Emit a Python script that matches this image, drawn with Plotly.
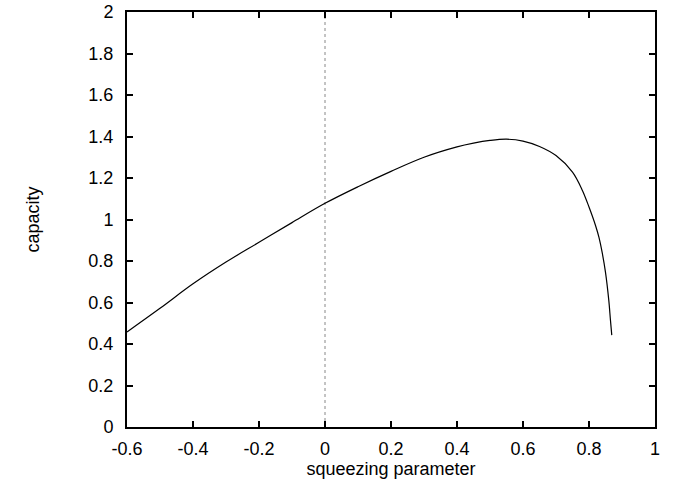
import plotly.graph_objects as go

squeezing = [-0.6, -0.5, -0.4, -0.3, -0.2, -0.1, 0.0, 0.1, 0.2, 0.3, 0.4, 0.45, 0.5, 0.55, 0.6,
             0.65, 0.7, 0.75, 0.78, 0.8, 0.82, 0.83, 0.84, 0.85, 0.86, 0.865, 0.869]
capacity = [0.458, 0.572, 0.690, 0.795, 0.890, 0.985, 1.078, 1.158, 1.232, 1.300, 1.350, 1.368,
            1.381, 1.387, 1.378, 1.352, 1.308, 1.228, 1.140, 1.060, 0.970, 0.915, 0.840, 0.745,
            0.610, 0.515, 0.443]

xticks = [-0.6, -0.4, -0.2, 0, 0.2, 0.4, 0.6, 0.8, 1]
xticklabels = ["-0.6", "-0.4", "-0.2", "0", "0.2", "0.4", "0.6", "0.8", "1"]
yticks = [0, 0.2, 0.4, 0.6, 0.8, 1, 1.2, 1.4, 1.6, 1.8, 2]
yticklabels = ["0", "0.2", "0.4", "0.6", "0.8", "1", "1.2", "1.4", "1.6", "1.8", "2"]

fig = go.Figure()
fig.add_trace(go.Scatter(x=[0, 0], y=[0, 2], mode="lines",
                         line=dict(color="#888888", width=1, dash="dot"), showlegend=False))
fig.add_trace(go.Scatter(x=squeezing, y=capacity, mode="lines", line_shape="spline",
                         line=dict(color="black", width=1.2), showlegend=False))

font = dict(family="Liberation Sans, Arial, sans-serif", size=18, color="black")
fig.update_layout(
    width=677, height=485,
    margin=dict(l=127, r=22, t=12, b=58),
    paper_bgcolor="white", plot_bgcolor="white",
    font=font,
    xaxis=dict(range=[-0.6, 1], tickvals=xticks, ticktext=xticklabels,
               ticks="inside", ticklen=6, tickwidth=1.5, tickcolor="black",
               ticklabelstandoff=4, automargin=False, ticklabeloverflow="allow",
               showline=True, linewidth=2, linecolor="black", mirror="ticks",
               showgrid=False, zeroline=False,
               title=dict(text="squeezing parameter", standoff=2, font=font)),
    yaxis=dict(range=[0, 2], tickvals=yticks, ticktext=yticklabels,
               ticks="inside", ticklen=6, tickwidth=1.5, tickcolor="black",
               ticklabelstandoff=8, automargin=False, ticklabeloverflow="allow",
               showline=True, linewidth=2, linecolor="black", mirror="ticks",
               showgrid=False, zeroline=False,
               title=dict(text="capacity", standoff=44, font=font)),
)
fig.write_html("out.html", config={"displayModeBar": False},
               post_script="document.body.style.margin='0';")
